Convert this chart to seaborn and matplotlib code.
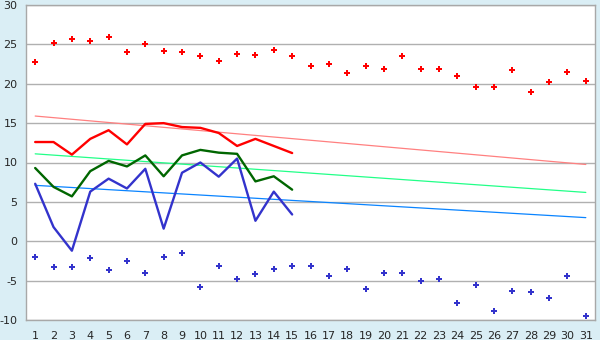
import matplotlib
matplotlib.use("Agg")
import matplotlib.pyplot as plt
import seaborn as sns
import pandas as pd

days = list(range(1, 32))
max_vals = [22.7, 25.2, 25.7, 25.4, 25.9, 24.0, 25.1, 24.1, 24.0, 23.5, 22.9, 23.8, 23.6, 24.3, 23.5,
            22.3, 22.5, 21.4, 22.3, 21.9, 23.5, 21.9, 21.9, 21.0, 19.6, 19.6, 21.7, 19.0, 20.2, 21.5, 20.3]
min_vals = [-1.95, -3.3, -3.3, -2.1, -3.6, -2.45, -4.0, -1.95, -1.55, -5.75, -3.2, -4.75, -4.1, -3.5, -3.1,
            -3.1, -4.35, -3.5, -6.1, -4.0, -4.0, -5.0, -4.75, -7.8, -5.6, -8.9, -6.3, -6.4, -7.15, -4.35, -9.55]
days15 = list(range(1, 16))
red_line = [12.6, 12.6, 11.0, 13.0, 14.1, 12.3, 14.9, 15.0, 14.5, 14.4, 13.75, 12.1, 13.0, 12.1, 11.2]
green_line = [9.3, 6.9, 5.7, 8.9, 10.2, 9.5, 10.9, 8.25, 10.9, 11.6, 11.25, 11.1, 7.6, 8.25, 6.55]
blue_line = [7.3, 1.8, -1.2, 6.3, 7.95, 6.7, 9.2, 1.6, 8.7, 10.0, 8.2, 10.5, 2.6, 6.3, 3.4]
trend_days = [1, 31]
red_trend = [15.9, 9.75]
green_trend = [11.1, 6.2]
blue_trend = [7.1, 3.0]
yticks = [-10, -5, 0, 5, 10, 15, 20, 25, 30]

sns.set_style("white")
plt.rcParams['font.family'] = ['DejaVu Sans']

fig = plt.figure(figsize=(6, 3.4), dpi=100, facecolor="#daeef5")
ax = fig.add_axes([26/600, 1-320/340, (595-26)/600, 315/340])
ax.set_facecolor("white")

for y in yticks:
    ax.axhline(y, color="#b0b0b0", lw=1.0, zorder=0)

sns.lineplot(x=trend_days, y=red_trend, ax=ax, color="#ff8080", lw=0.9)
sns.lineplot(x=trend_days, y=green_trend, ax=ax, color="#22ff88", lw=0.9)
sns.lineplot(x=trend_days, y=blue_trend, ax=ax, color="#0a84ff", lw=0.9)

sns.lineplot(x=days15, y=red_line, ax=ax, color="#ff0000", lw=1.7)
sns.lineplot(x=days15, y=green_line, ax=ax, color="#006600", lw=1.7)
sns.lineplot(x=days15, y=blue_line, ax=ax, color="#3333cc", lw=1.7)

sns.scatterplot(x=days, y=max_vals, ax=ax, color="#ff0000", marker="P", s=16, linewidth=0)
sns.scatterplot(x=days, y=min_vals, ax=ax, color="#3333cc", marker="P", s=16, linewidth=0)

ax.set_xlim(0.5, 31.5)
ax.set_ylim(-10, 30)
ax.set_xticks(days)
ax.set_xticklabels([str(d) for d in days], fontsize=8)
ax.set_yticks(yticks)
ax.set_yticklabels([str(y) for y in yticks], fontsize=8)
ax.tick_params(axis="both", direction="out", length=4, width=1, color="#202020", pad=2)
ax.tick_params(axis="x", length=5, pad=3)
for s in ax.spines.values():
    s.set_color("#a8a8a8")
    s.set_linewidth(1.0)
ax.grid(False)

fig.savefig("out.png", dpi=100, facecolor=fig.get_facecolor())
